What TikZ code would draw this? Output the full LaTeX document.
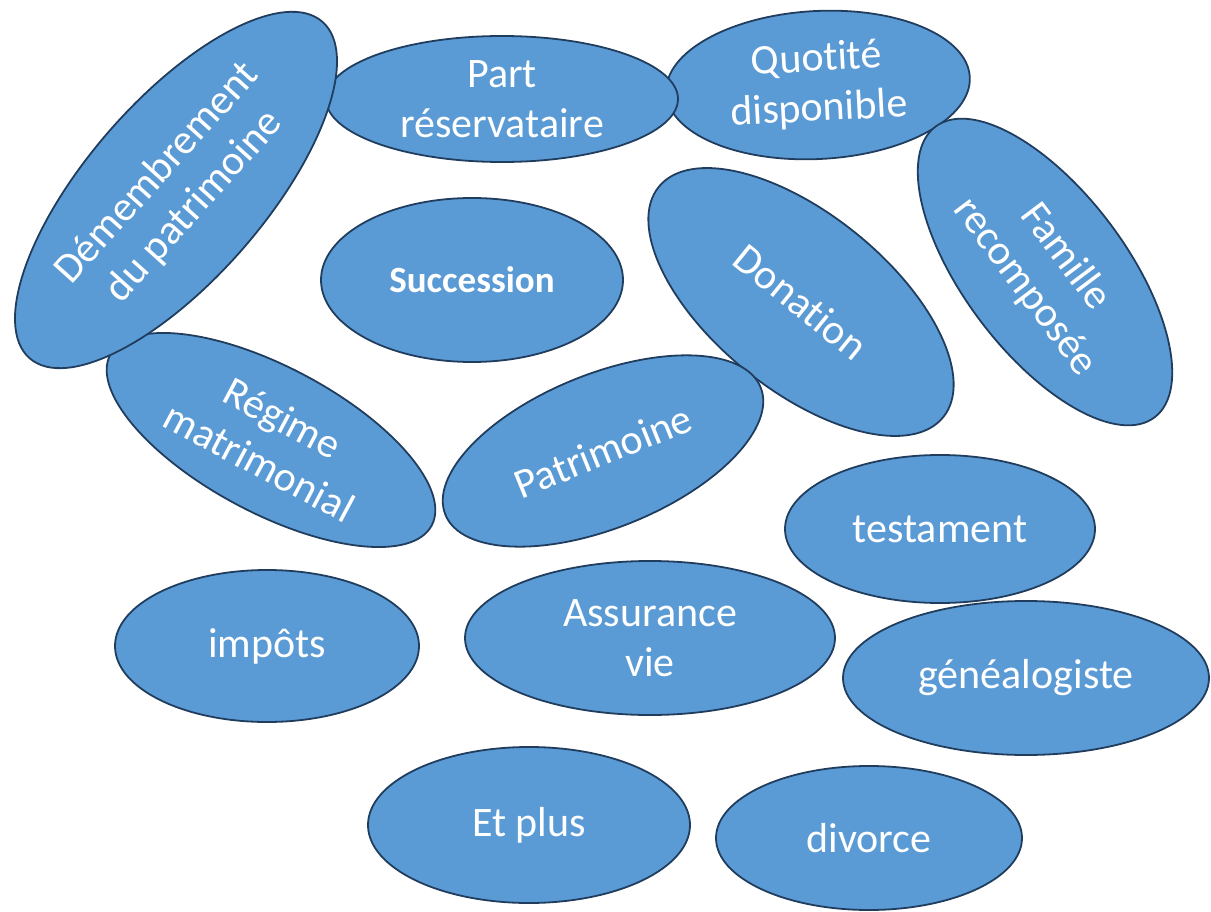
\documentclass[tikz,border=0pt]{standalone}
\usepackage{fontspec}
\setmainfont{Carlito}[Ligatures={NoCommon,NoContextual,NoRare},RawFeature={-liga;-clig;-dlig}]
\usetikzlibrary{shapes.geometric}
\definecolor{blobfill}{HTML}{5B9BD5}
\definecolor{blobline}{HTML}{203D5E}
\tikzset{
  blob/.style={ellipse, fill=blobfill, draw=blobline, line width=1.8pt, inner sep=0pt},
  lbl/.style={text=white, align=center, font=\fontsize{42}{50}\selectfont, inner sep=0pt},
  lblb/.style={text=white, align=center, font=\fontsize{37}{44}\selectfont\bfseries, inner sep=0pt}
}
\begin{document}
\begin{tikzpicture}[x=1pt,y=-1pt]
\useasboundingbox (0,0) rectangle (1211,912);
% Quotite
\node[blob, minimum width=304pt, minimum height=148pt, rotate=3] (quot) at (818,85) {};
\node[lbl, rotate=3] at (quot.center) {Quot\kern0pt i\kern0pt t\kern0pt é\\disponible};
% Famille
\node[blob, minimum width=364pt, minimum height=162pt, rotate=-53] (fam) at (1045,272) {};
\node[lbl, rotate=-53] at (fam.center) {Famille\\recomposée};
% Part
\node[blob, minimum width=352pt, minimum height=126pt] (part) at (502,99) {};
\node[lbl] at (part.center) {Part\\réservataire};
% Regime
\node[blob, minimum width=364pt, minimum height=146pt, rotate=-28] (reg) at (271,440) {};
\node[lbl, rotate=-28] at (reg.center) {Régime\\matrimonial};
% Demembrement
\node[blob, minimum width=446pt, minimum height=178pt, rotate=49] (dem) at (176,190) {};
\node[lbl, rotate=48] at (dem.center) {Démembrement\\du patrimoine};
% Succession
\node[blob, minimum width=302pt, minimum height=164pt] (succ) at (472,280) {};
\node[lblb] at (succ.center) {Succession};
% Donation
\node[blob, minimum width=366pt, minimum height=176pt, rotate=-39] (don) at (801,302) {};
\node[lbl, rotate=-39] at (don.center) {Donat\kern0pt ion};
% Patrimoine
\node[blob, minimum width=340pt, minimum height=154pt, rotate=22] (pat) at (603,451) {};
\node[lbl, rotate=22] at (pat.center) {Patrimoine};
% testament
\node[blob, minimum width=310pt, minimum height=148pt] (test) at (940,529) {};
\node[lbl] at (test.center) {testament};
% impots
\node[blob, minimum width=304pt, minimum height=152pt] (imp) at (267,646) {};
\node[lbl] at (imp.center) {impôts};
% Assurance vie
\node[blob, minimum width=370pt, minimum height=154pt] (ass) at (650,638) {};
\node[lbl] at (ass.center) {Assurance\\vie};
% genealogiste
\node[blob, minimum width=366pt, minimum height=154pt] (gen) at (1026,678) {};
\node[lbl] at (gen.center) {généalogiste};
% Et plus
\node[blob, minimum width=322pt, minimum height=156pt] (plus) at (529,825) {};
\node[lbl] at (plus.center) {Et plus};
% divorce
\node[blob, minimum width=306pt, minimum height=144pt] (div) at (869,838) {};
\node[lbl] at (div.center) {divorce};
\end{tikzpicture}
\end{document}
